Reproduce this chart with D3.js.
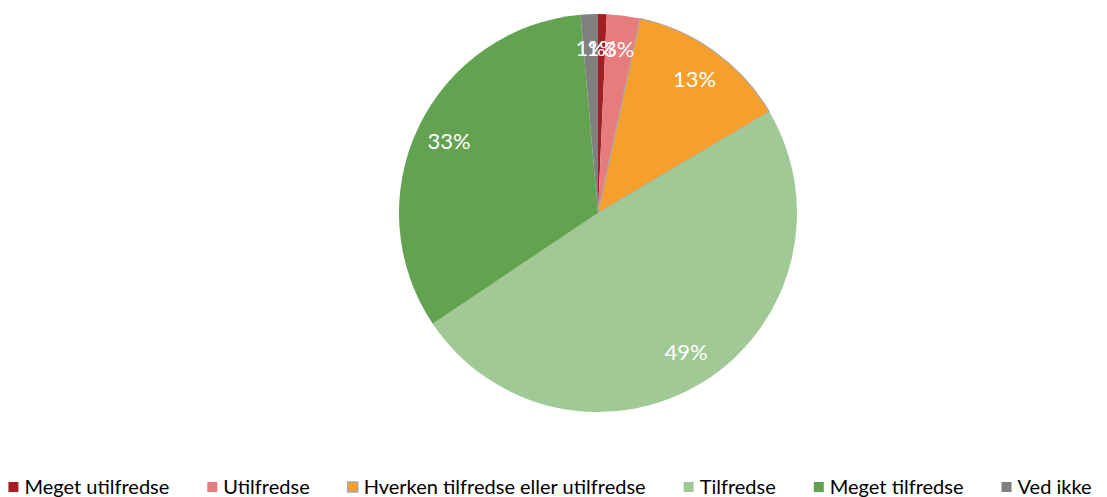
<!DOCTYPE html>
<html>
<head>
<meta charset="utf-8">
<script src="https://cdn.jsdelivr.net/npm/d3@7"></script>
<style>
  body { margin: 0; background: #fff; }
  svg { display: block; font-family: Lato, "Noto Sans", sans-serif; }
</style>
</head>
<body>
<div id="chart"></div>
<script>
const categories = ['Meget utilfredse', 'Utilfredse', 'Hverken tilfredse eller utilfredse', 'Tilfredse', 'Meget tilfredse', 'Ved ikke'];
const values = [0.7, 2.7, 13.1, 49.1, 33.0, 1.4];
const labels = ['1%', '3%', '13%', '49%', '33%', '1%'];
const colors = ['#A21E22', '#E77C7C', '#F79F2D', '#A1C995', '#63A250', '#808080'];

const W = 1107, H = 497;
const cx = 598, cy = 213, r = 199;

const svg = d3.select('#chart').append('svg')
  .attr('width', W).attr('height', H);

const data = categories.map((c, i) => ({ name: c, value: values[i], label: labels[i], color: colors[i] }));

const pie = d3.pie().value(d => d.value).sort(null);
const arc = d3.arc().innerRadius(0).outerRadius(r);
const labelArc = d3.arc().innerRadius(r * 0.83).outerRadius(r * 0.83);

const g = svg.append('g').attr('transform', `translate(${cx},${cy})`);
const arcs = pie(data);

g.selectAll('path')
  .data(arcs).join('path')
  .attr('d', arc)
  .attr('fill', d => d.data.color)
  .attr('stroke', d => d.index === 2 ? '#A9A9A9' : 'none')
  .attr('stroke-width', 1.2);

g.selectAll('text')
  .data(arcs).join('text')
  .attr('transform', d => `translate(${labelArc.centroid(d)})`)
  .attr('text-anchor', 'middle')
  .attr('dy', '0.35em')
  .attr('font-size', '22px')
  .attr('fill', '#fff')
  .text(d => d.data.label);

// Legend, centred under the chart
const legend = svg.append('g').attr('transform', 'translate(0,487)');
const items = legend.selectAll('g').data(data).join('g');
items.append('rect')
  .attr('width', 10).attr('height', 10).attr('y', -5)
  .attr('fill', d => d.color)
  .attr('stroke', (d, i) => i === 2 ? '#A9A9A9' : 'none')
  .attr('stroke-width', 1.5);
items.append('text')
  .attr('x', 16).attr('dy', '0.35em')
  .attr('font-size', '20px')
  .attr('fill', '#000')
  .text(d => d.name);

let x = 0;
const gap = 38;
items.each(function () {
  const w = this.querySelector('text').getComputedTextLength();
  d3.select(this).attr('transform', `translate(${x},0)`);
  x += 16 + w + gap;
});
const total = x - gap;
legend.attr('transform', `translate(${550 - total / 2},487)`);
</script>
</body>
</html>
